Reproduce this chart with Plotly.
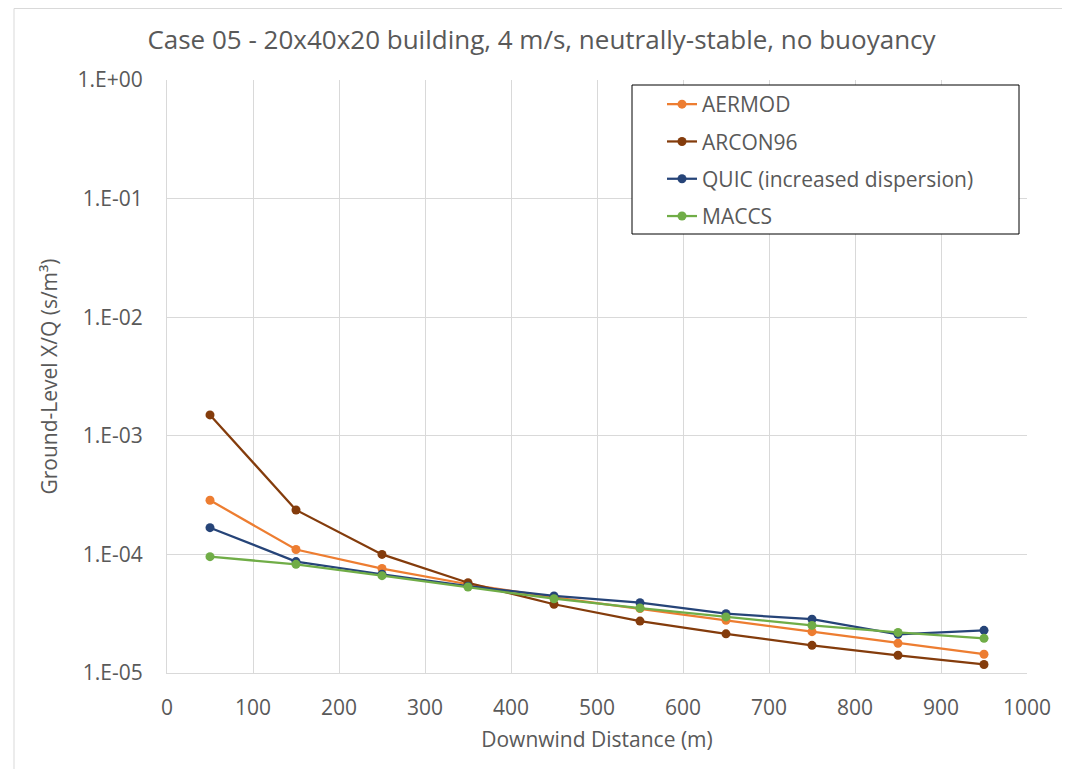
import plotly.graph_objects as go

distance = [50, 150, 250, 350, 450, 550, 650, 750, 850, 950]
aermod = [2.86e-4, 1.10e-4, 7.6e-5, 5.6e-5, 4.35e-5, 3.5e-5, 2.78e-5, 2.23e-5, 1.78e-5, 1.44e-5]
arcon96 = [1.50e-3, 2.37e-4, 1.0e-4, 5.77e-5, 3.8e-5, 2.74e-5, 2.14e-5, 1.71e-5, 1.41e-5, 1.18e-5]
quic = [1.68e-4, 8.7e-5, 6.8e-5, 5.4e-5, 4.46e-5, 3.92e-5, 3.16e-5, 2.84e-5, 2.12e-5, 2.29e-5]
maccs = [9.57e-5, 8.25e-5, 6.62e-5, 5.31e-5, 4.23e-5, 3.53e-5, 2.97e-5, 2.52e-5, 2.2e-5, 1.96e-5]

series_names = ["AERMOD", "ARCON96", "QUIC (increased dispersion)", "MACCS"]
series_values = [aermod, arcon96, quic, maccs]
series_colors = ["#ED7D31", "#843C0C", "#264478", "#70AD47"]

y_tickvals = [1e-5, 1e-4, 1e-3, 1e-2, 1e-1, 1e0]
y_ticktext = ["1.E-05", "1.E-04", "1.E-03", "1.E-02", "1.E-01", "1.E+00"]
x_tickvals = [0, 100, 200, 300, 400, 500, 600, 700, 800, 900, 1000]

FONT = "Open Sans"
TXT = "#595959"
GRID = "#D9D9D9"

# page is rendered with an 8px body margin; work in page coordinates
OFF = 8
W, H = 1070 - OFF, 769 - OFF
L, R, T, B = 167 - OFF, 1027 - OFF, 80 - OFF, 673 - OFF
pw, ph = R - L, B - T


def px(xp):
    return (xp - OFF - L) / pw


def py(yp):
    return (B - (yp - OFF)) / ph


fig = go.Figure()
for i, (name, vals, col) in enumerate(zip(series_names, series_values, series_colors)):
    fig.add_trace(go.Scatter(
        x=distance, y=vals, name=name, mode="lines+markers",
        legendgroup=f"g{i}",
        line=dict(color=col, width=2.25),
        marker=dict(color=col, size=9),
    ))

fig.update_layout(
    width=W, height=H,
    margin=dict(l=L, r=W - R, t=T, b=H - B),
    paper_bgcolor="white", plot_bgcolor="white",
    font=dict(family=FONT, color=TXT, size=20),
    title=dict(text="Case 05 - 20x40x20 building, 4 m/s, neutrally-stable, no buoyancy",
               x=(541.5 - OFF) / W, xanchor="center", y=1 - (40 - OFF) / H, yanchor="middle",
               font=dict(family=FONT, size=26, color=TXT)),
    xaxis=dict(range=[0, 1000], tickvals=x_tickvals, showgrid=True, gridcolor=GRID,
               gridwidth=1, showline=True, linecolor=GRID, linewidth=1, mirror=False,
               zeroline=False, ticks="outside", ticklen=16, tickcolor="rgba(0,0,0,0)",
               tickfont=dict(size=21, color=TXT),
               title=dict(text="Downwind Distance (m)", font=dict(size=21, color=TXT), standoff=12)),
    yaxis=dict(type="log", range=[-5, 0], tickvals=y_tickvals, ticktext=y_ticktext,
               showgrid=True, gridcolor=GRID, gridwidth=1, showline=True, linecolor=GRID,
               linewidth=1, zeroline=False, ticks="outside", ticklen=19,
               tickcolor="rgba(0,0,0,0)", tickfont=dict(size=21, color=TXT),
               title=dict(text="Ground-Level X/Q (s/m³)", font=dict(size=21, color=TXT), standoff=14)),
    legend=dict(x=px(662), y=py(84), xanchor="left", yanchor="top",
                bgcolor="rgba(0,0,0,0)", borderwidth=0,
                font=dict(size=21, color=TXT), itemwidth=30,
                tracegroupgap=7),
    showlegend=True,
)

# legend box
fig.add_shape(type="rect", xref="paper", yref="paper",
              x0=px(632), x1=px(1019), y0=py(234), y1=py(85),
              line=dict(color="black", width=1), fillcolor="white", layer="above")

# outer chart border
fig.add_shape(type="rect", xref="paper", yref="paper",
              x0=px(14), x1=px(1068), y0=py(780), y1=py(8.5),
              line=dict(color=GRID, width=1), fillcolor="rgba(0,0,0,0)", layer="below")

fig.write_html("out.html")
